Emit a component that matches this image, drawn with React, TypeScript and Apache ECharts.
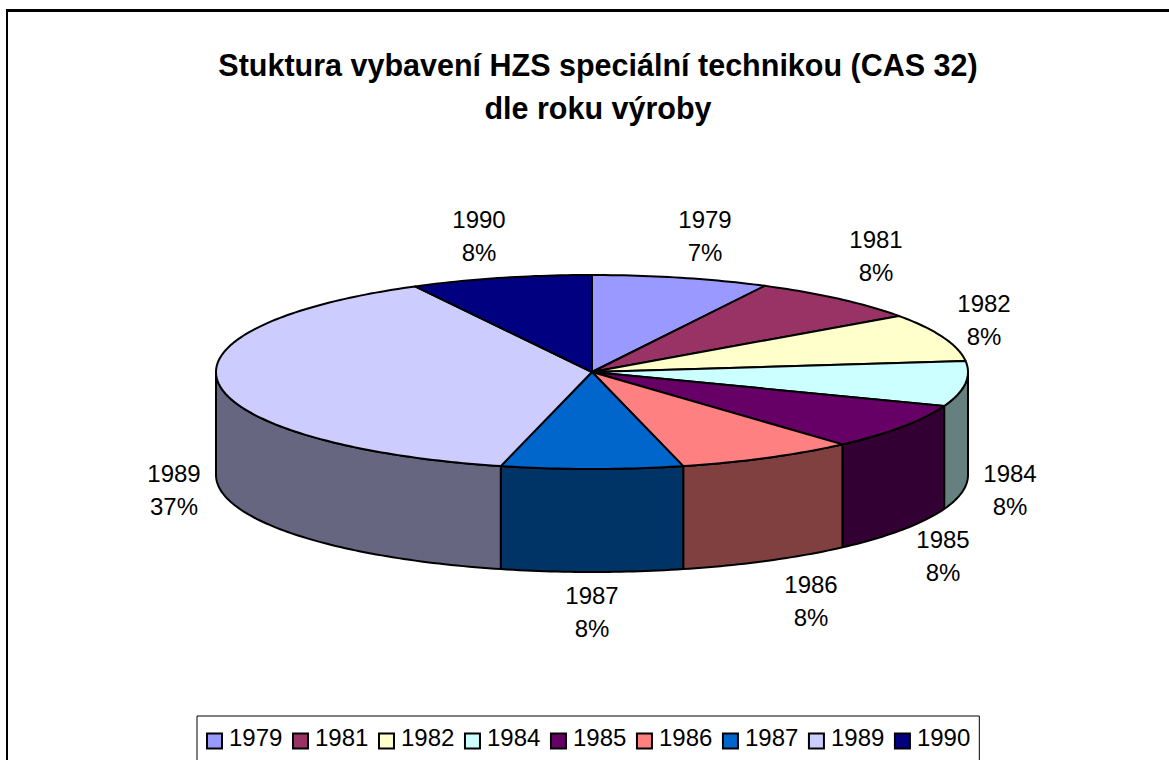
import React, { useEffect, useRef } from "react";
import * as echarts from "echarts";

const categories = ["1979", "1981", "1982", "1984", "1985", "1986", "1987", "1989", "1990"];
const shares = [7.6, 7.6, 8.0, 7.5, 7.7, 7.7, 7.8, 38.3, 7.8];
const percentLabels = ["7%", "8%", "8%", "8%", "8%", "8%", "8%", "37%", "8%"];
const topColors = ["#9999FF", "#993366", "#FFFFCC", "#CCFFFF", "#660066", "#FF8080", "#0066CC", "#CCCCFF", "#000080"];
const wallColors = ["#4D4D80", "#4D1A33", "#808066", "#668080", "#330033", "#804040", "#003366", "#666680", "#000040"];
const labelCentres = [
  [705, 236], [876, 256], [984, 320], [1010, 490], [943, 556], [811, 601], [592, 612], [174, 490], [479, 236],
];

const CX = 592, CY = 372, RX = 376, RY = 97, DEPTH = 103;
const total = shares.reduce((a, b) => a + b, 0);
const rim = (deg: number, dy = 0): number[] => {
  const t = (deg * Math.PI) / 180;
  return [CX + RX * Math.sin(t), CY - RY * Math.cos(t) + dy];
};
const arc = (a: number, b: number, dy = 0): number[][] => {
  const n = Math.max(2, Math.ceil(Math.abs(b - a)));
  const pts: number[][] = [];
  for (let i = 0; i <= n; i++) pts.push(rim(a + ((b - a) * i) / n, dy));
  return pts;
};

export default function App() {
  const ref = useRef<HTMLDivElement>(null);
  useEffect(() => {
    const chart = echarts.init(ref.current!, undefined, { renderer: "svg" });
    let acc = 0;
    const series = categories.map((name, i) => {
      const start = (acc / total) * 360;
      acc += shares[i];
      const end = (acc / total) * 360;
      return {
        type: "custom",
        name,
        coordinateSystem: "none",
        silent: true,
        itemStyle: { color: topColors[i] },
        data: [[start, end]],
        renderItem: (_p: any, api: any) => {
          const a = api.value(0), b = api.value(1);
          const children: any[] = [];
          const wa = Math.max(a, 90), wb = Math.min(b, 270);
          if (wb > wa) {
            children.push({
              type: "polygon",
              z2: 1,
              shape: { points: [...arc(wa, wb), ...arc(wb, wa, DEPTH)] },
              style: { fill: wallColors[i], stroke: "#000", lineWidth: 2, lineJoin: "round" },
            });
          }
          children.push({
            type: "polygon",
            z2: 10,
            shape: { points: [[CX, CY], ...arc(a, b)] },
            style: { fill: topColors[i], stroke: "#000", lineWidth: 2, lineJoin: "round" },
          });
          children.push({
            type: "text",
            z2: 20,
            style: {
              x: labelCentres[i][0],
              y: labelCentres[i][1],
              text: `${name}\n${percentLabels[i]}`,
              fill: "#000",
              font: "24px 'Liberation Sans', Arial, sans-serif",
              lineHeight: 33,
              align: "center",
              verticalAlign: "middle",
            },
          });
          return { type: "group", children };
        },
      };
    });
    chart.setOption({
      animation: false,
      backgroundColor: "#fff",
      title: {
        text: "Stuktura vybavení HZS speciální technikou (CAS 32)\ndle roku výroby",
        left: 598,
        top: 43,
        textAlign: "center",
        textStyle: {
          fontFamily: "'Liberation Sans', Arial, sans-serif",
          fontWeight: "bold",
          fontSize: 30.5,
          lineHeight: 43,
          color: "#000",
        },
        padding: 0,
      },
      legend: {
        data: categories,
        left: 197,
        top: 716,
        orient: "horizontal",
        icon: "rect",
        itemWidth: 15,
        itemHeight: 15,
        itemGap: 9.6,
        padding: [9, 9, 40, 9],
        borderColor: "#000",
        borderWidth: 1,
        selectedMode: false,
        itemStyle: { borderColor: "#000", borderWidth: 2 },
        formatter: "{t|{name}}",
        textStyle: {
          rich: {
            t: {
              fontFamily: "'Liberation Sans', Arial, sans-serif",
              fontSize: 24,
              color: "#000",
              padding: [0, 0, 8, 2],
            },
          },
        },
      },
      graphic: [
        { type: "line", shape: { x1: 6, y1: 10.5, x2: 1169, y2: 10.5 }, style: { stroke: "#000", lineWidth: 3 } },
        { type: "line", shape: { x1: 7, y1: 10, x2: 7, y2: 760 }, style: { stroke: "#000", lineWidth: 2 } },
      ],
      series,
    });
    return () => chart.dispose();
  }, []);
  return <div ref={ref} style={{ position: "absolute", left: 0, top: 0, width: 1169, height: 760 }} />;
}
